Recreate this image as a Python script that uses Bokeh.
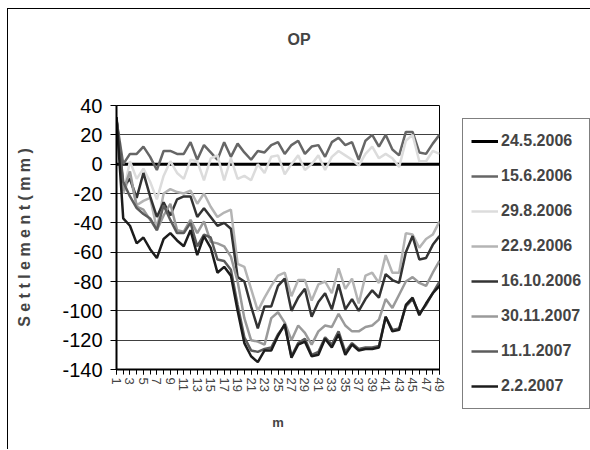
from bokeh.plotting import figure
from bokeh.models import Legend, LegendItem, FixedTicker, Range1d, Title
from bokeh.embed import file_html
from bokeh.resources import INLINE

categories = list(range(1, 50))
x_tick_labels = ["1", "3", "5", "7", "9", "11", "13", "15", "17", "19", "21", "23", "25",
                 "27", "29", "31", "33", "35", "37", "39", "41", "43", "45", "47", "49"]
y_ticks = [-140, -120, -100, -80, -60, -40, -20, 0, 20, 40]

dates = ["24.5.2006", "15.6.2006", "29.8.2006", "22.9.2006",
         "16.10.2006", "30.11.2007", "11.1.2007", "2.2.2007"]

s_24_5_2006 = [0, 0, 0, 0, 0, 0, 0, 0, 0, 0, 0, 0, 0, 0, 0, 0, 0, 0, 0, 0, 0, 0, 0, 0, 0,
               0, 0, 0, 0, 0, 0, 0, 0, 0, 0, 0, 0, 0, 0, 0, 0, 0, 0, 0, 0, 0, 0, 0, 0]
s_15_6_2006 = [30, 0, 7, 7, 12, 5, -4, 9, 9, 7, 7, 15, 3, 13, 8, 3, 15, 5, 14, 8, 3, 9, 8, 13, 15,
               7, 13, 16, 7, 12, 13, 5, 15, 18, 13, 15, 3, 16, 20, 12, 20, 10, 6, 22, 22, 8, 7, 14, 20]
s_29_8_2006 = [28, -20, 2, -10, -3, -12, -24, -8, 2, -6, -10, 3, 2, -11, 4, 6, -11, 4, -10, -8, -11, 0, -6, 5, 6,
               -7, 0, 6, -4, 0, 6, -4, 5, 9, 6, 3, -1, 7, 12, 4, 7, 4, -2, 16, 20, 2, 2, 9, 7]
s_22_9_2006 = [30, -20, -8, -28, -25, -23, -44, -20, -17, -19, -20, -18, -27, -20, -29, -36, -33, -31, -68, -70,
               -85, -100, -91, -83, -76, -74, -90, -79, -79, -93, -82, -80, -88, -71, -85, -78, -95, -76, -74, -81,
               -62, -74, -74, -47, -48, -57, -51, -48, -39]
s_16_10_2006 = [32, -15, -10, -23, -6, -22, -36, -26, -35, -24, -22, -22, -36, -30, -36, -42, -40, -44, -77, -80,
                -97, -112, -97, -97, -83, -78, -100, -91, -85, -104, -94, -88, -99, -82, -99, -92, -100, -92, -86, -91,
                -75, -79, -81, -60, -49, -65, -64, -55, -49]
s_30_11_2007 = [30, -18, -5, -29, -31, -38, -45, -35, -27, -45, -46, -38, -47, -39, -53, -54, -56, -63, -80, -105,
                -120, -121, -123, -105, -101, -108, -120, -110, -115, -123, -114, -110, -111, -102, -110, -114, -114,
                -111, -110, -106, -92, -98, -89, -80, -77, -81, -83, -74, -66]
s_11_1_2007 = [30, -12, -22, -30, -34, -37, -45, -28, -38, -47, -47, -40, -56, -48, -50, -65, -66, -72, -96, -118,
               -127, -128, -126, -125, -116, -110, -131, -122, -119, -130, -128, -118, -123, -114, -128, -122, -126,
               -125, -125, -124, -104, -113, -112, -97, -92, -102, -96, -88, -80]
s_2_2_2007 = [32, -37, -42, -54, -50, -58, -64, -51, -47, -52, -56, -45, -62, -49, -57, -74, -70, -76, -100, -122,
              -131, -135, -127, -127, -117, -109, -132, -123, -121, -131, -130, -119, -125, -116, -130, -123, -127,
              -126, -126, -125, -104, -114, -113, -96, -91, -103, -95, -88, -83]

series = [s_24_5_2006, s_15_6_2006, s_29_8_2006, s_22_9_2006,
          s_16_10_2006, s_30_11_2007, s_11_1_2007, s_2_2_2007]
colors = ["#000000", "#666666", "#dcdcdc", "#b4b4b4", "#333333", "#9a9a9a", "#5c5c5c", "#1c1c1c"]
widths = [3, 2.5, 2.5, 2.5, 2.5, 2.5, 2.5, 2.5]

FONT = "Liberation Sans"

p = figure(frame_width=323, frame_height=264, output_backend="svg", toolbar_location=None,
           x_range=Range1d(1, 49), y_range=Range1d(-140, 40),
           min_border_left=108, min_border_right=150, min_border_top=96, min_border_bottom=80)
p.styles = {"margin-left": "7px", "margin-top": "8px",
            "border-left": "1px solid #000", "border-top": "1px solid #000"}

# visible title (outermost) and an empty spacer title nearest the frame
p.title.text = "OP"
p.title.align = "left"
p.title.offset = 171
p.title.standoff = 0
p.title.text_font = FONT
p.title.text_font_size = "16px"
p.title.text_font_style = "bold"
p.add_layout(Title(text=" ", text_font_size="50px", standoff=0), "above")

p.outline_line_color = "#000000"
p.outline_line_width = 1
p.xgrid.visible = False
p.ygrid.grid_line_color = "#404040"
p.ygrid.grid_line_width = 1
p.ygrid.ticker = FixedTicker(ticks=y_ticks)

p.yaxis.ticker = FixedTicker(ticks=y_ticks)
p.yaxis.major_label_overrides = {t: str(t) for t in y_ticks}
p.yaxis.major_label_text_font = FONT
p.yaxis.major_label_text_font_size = "20px"
p.yaxis.major_label_text_color = "#000000"
p.yaxis.major_label_standoff = 8
p.yaxis.axis_line_width = 2
p.yaxis.major_tick_out = 6
p.yaxis.major_tick_in = 0
p.yaxis.minor_tick_out = 0
p.yaxis.minor_tick_in = 0
p.yaxis.axis_label = "S e t t l e m e n t ( m m )"
p.yaxis.axis_label_text_font = FONT
p.yaxis.axis_label_text_font_size = "16px"
p.yaxis.axis_label_text_font_style = "bold"
p.yaxis.axis_label_standoff = 26

odd_ticks = [c for c in categories if str(c) in x_tick_labels]
p.xaxis.ticker = FixedTicker(ticks=odd_ticks, minor_ticks=categories)
p.xaxis.major_label_overrides = dict(zip(odd_ticks, x_tick_labels))
p.xaxis.major_label_orientation = "vertical"
p.xaxis.major_label_text_font = FONT
p.xaxis.major_label_text_font_size = "13px"
p.xaxis.major_label_standoff = 3
p.xaxis.axis_line_width = 2
p.xaxis.major_tick_out = 5
p.xaxis.major_tick_in = 0
p.xaxis.minor_tick_out = 5
p.xaxis.minor_tick_in = 0
p.xaxis.axis_label = "m"
p.xaxis.axis_label_text_font = FONT
p.xaxis.axis_label_text_font_size = "13px"
p.xaxis.axis_label_text_font_style = "bold"
p.xaxis.axis_label_standoff = 20

items = []
for name, ys, col, w in zip(dates, series, colors, widths):
    r = p.line(categories, ys, line_color=col, line_width=w)
    items.append(LegendItem(label=name, renderers=[r]))

legend = Legend(items=items, location=(23, -40), ncols=1)
legend.border_line_color = "#000000"
legend.border_line_width = 1
legend.background_fill_color = "#ffffff"
legend.background_fill_alpha = 1
legend.label_text_font = FONT
legend.label_text_font_size = "16px"
legend.label_text_font_style = "bold"
legend.label_height = 28
legend.glyph_height = 20
legend.glyph_width = 27
legend.label_standoff = 3
legend.spacing = 7
legend.padding = 8
legend.margin = 0
p.add_layout(legend, "right")

open("out.html", "w").write(file_html(p, INLINE))
